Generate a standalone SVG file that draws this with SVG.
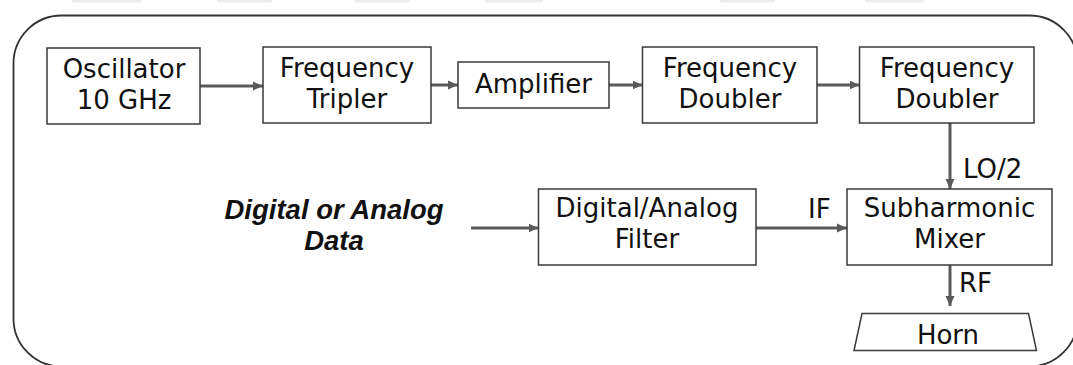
<svg xmlns="http://www.w3.org/2000/svg" width="1073" height="365" viewBox="0 0 1073 365">
<style>
  .box { fill: #ffffff; stroke: #3a3a3a; stroke-width: 1.5; }
  .t { font-family: "DejaVu Sans", "Liberation Sans", sans-serif; font-size: 26px; fill: #111111; text-anchor: middle; }
  .lbl { font-family: "DejaVu Sans", "Liberation Sans", sans-serif; font-size: 26px; fill: #111111; }
  .data { font-family: "Liberation Sans", Arial, sans-serif; font-size: 27.5px; font-weight: bold; font-style: italic; fill: #111111; text-anchor: middle; }
  .conn { stroke: #5a5a5a; stroke-width: 3; fill: none; marker-end: url(#arr); }
  .ghost { fill: #ececec; }
</style>
<defs>
  <marker id="arr" markerUnits="userSpaceOnUse" markerWidth="10" markerHeight="10" refX="10" refY="5" orient="auto">
    <path d="M0,0.5 L10,5 L0,9.5 Z" fill="#5a5a5a"/>
  </marker>
</defs>
<rect width="1073" height="365" fill="#ffffff"/>
<g id="ghosts">
  <rect class="ghost" x="72" y="-2" width="69" height="4.5" rx="2"/>
  <rect class="ghost" x="217" y="-2" width="55" height="4.5" rx="2"/>
  <rect class="ghost" x="355" y="-2" width="55" height="4.5" rx="2"/>
  <rect class="ghost" x="485" y="-2" width="58" height="4.5" rx="2"/>
  <rect class="ghost" x="720" y="-2" width="55" height="4.5" rx="2"/>
  <rect class="ghost" x="865" y="-2" width="59" height="4.5" rx="2"/>
</g>
<g id="frame">
  <rect x="13.5" y="15.5" width="1064" height="351" rx="48" ry="48" fill="none" stroke="#333333" stroke-width="1.8"/>
</g>
<g id="connectors">
  <line class="conn" x1="200" y1="86" x2="263" y2="86"/>
  <line class="conn" x1="431" y1="85" x2="458" y2="85"/>
  <line class="conn" x1="609" y1="85" x2="642.5" y2="85"/>
  <line class="conn" x1="817" y1="85" x2="859.5" y2="85"/>
  <line class="conn" x1="950" y1="123" x2="950" y2="189"/>
  <line class="conn" x1="471" y1="228" x2="538.5" y2="228"/>
  <line class="conn" x1="756" y1="228" x2="847" y2="228"/>
  <line class="conn" x1="950" y1="265" x2="950" y2="306"/>
  <text class="lbl" x="963" y="178">LO/2</text>
  <text class="lbl" x="808" y="218">IF</text>
  <text class="lbl" x="959" y="292">RF</text>
</g>
<g id="oscillator">
  <rect class="box" x="47" y="48" width="153" height="76"/>
  <text class="t" x="124" y="77.5">Oscillator</text>
  <text class="t" x="124" y="108.5">10 GHz</text>
</g>
<g id="tripler">
  <rect class="box" x="263" y="47" width="168" height="76"/>
  <text class="t" x="347" y="77">Frequency</text>
  <text class="t" x="347" y="108">Tripler</text>
</g>
<g id="amplifier">
  <rect class="box" x="458" y="62" width="151" height="46"/>
  <text class="t" x="533.5" y="93">Amplifier</text>
</g>
<g id="doubler1">
  <rect class="box" x="642.5" y="47" width="174.5" height="76"/>
  <text class="t" x="730" y="77">Frequency</text>
  <text class="t" x="730" y="108">Doubler</text>
</g>
<g id="doubler2">
  <rect class="box" x="859.5" y="47" width="174.5" height="76"/>
  <text class="t" x="947" y="77">Frequency</text>
  <text class="t" x="947" y="108">Doubler</text>
</g>
<g id="data">
  <text class="data" x="334" y="218.5">Digital or Analog</text>
  <text class="data" x="334" y="249.5">Data</text>
</g>
<g id="filter">
  <rect class="box" x="538.5" y="189" width="217.5" height="76"/>
  <text class="t" x="647" y="217">Digital/Analog</text>
  <text class="t" x="647" y="248">Filter</text>
</g>
<g id="mixer">
  <rect class="box" x="847" y="189" width="205" height="76"/>
  <text class="t" x="949.5" y="217">Subharmonic</text>
  <text class="t" x="949.5" y="248">Mixer</text>
</g>
<g id="horn">
  <polygon class="box" points="862,313.5 1028.5,313.5 1036.5,350.5 854,350.5"/>
  <text class="t" x="948" y="344">Horn</text>
</g>
</svg>
